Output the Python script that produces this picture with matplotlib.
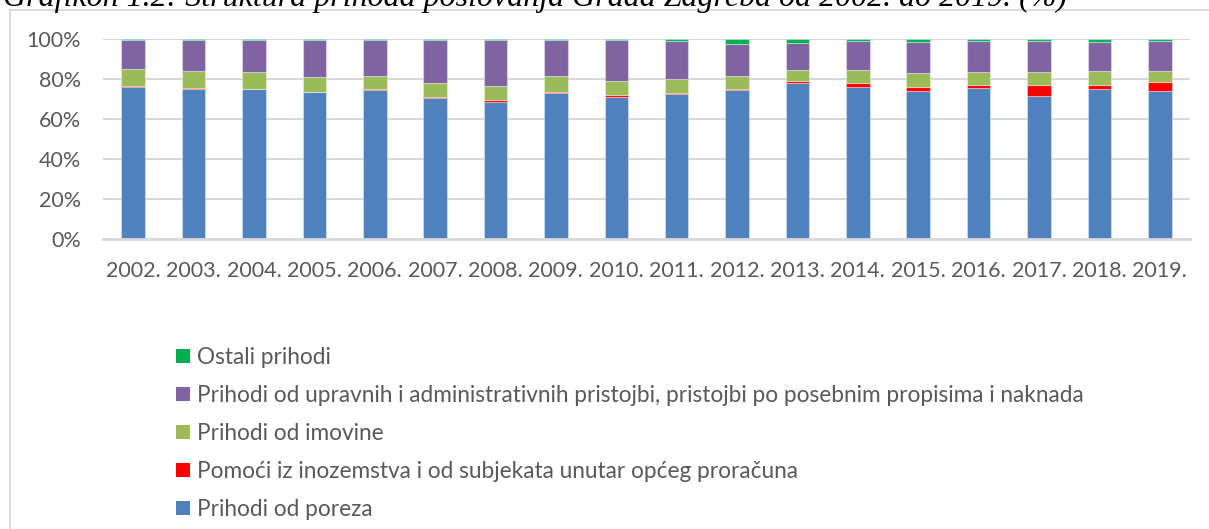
import matplotlib
matplotlib.use("Agg")
import matplotlib.pyplot as plt
from matplotlib.patches import Patch
from matplotlib.lines import Line2D
import numpy as np

years = ["2002.", "2003.", "2004.", "2005.", "2006.", "2007.", "2008.", "2009.", "2010.",
         "2011.", "2012.", "2013.", "2014.", "2015.", "2016.", "2017.", "2018.", "2019."]
porez = [75.8, 75.0, 74.8, 73.5, 74.5, 70.5, 68.7, 73.0, 71.2, 72.3, 74.3, 78.0, 76.0, 74.0, 75.7, 71.7, 74.8, 74.0]
pomoci = [0.7, 0.7, 0.2, 0.2, 0.3, 0.5, 0.6, 0.7, 0.8, 0.9, 0.7, 0.8, 1.8, 2.2, 1.5, 5.5, 2.4, 4.5]
imovina = [8.5, 8.3, 8.3, 7.3, 6.9, 6.8, 7.0, 7.6, 7.0, 6.8, 6.3, 5.7, 6.9, 6.8, 6.3, 6.5, 6.8, 5.7]
pristojbe = [14.7, 15.7, 16.4, 18.7, 18.0, 21.9, 23.4, 18.4, 20.7, 19.2, 16.0, 13.3, 14.1, 15.7, 15.5, 15.3, 14.7, 15.0]
ostali = [0.3, 0.3, 0.3, 0.3, 0.3, 0.3, 0.3, 0.3, 0.3, 0.8, 2.7, 2.2, 1.2, 1.3, 1.0, 1.0, 1.3, 0.8]

series = [
    ("Prihodi od poreza", porez, "#4F81BD"),
    ("Pomoći iz inozemstva i od subjekata unutar općeg proračuna", pomoci, "#FF0000"),
    ("Prihodi od imovine", imovina, "#9BBB59"),
    ("Prihodi od upravnih i administrativnih pristojbi, pristojbi po posebnim propisima i naknada", pristojbe, "#8064A2"),
    ("Ostali prihodi", ostali, "#00B050"),
]

W, H = 1209, 529
fig = plt.figure(figsize=(W / 100, H / 100), dpi=100)
plt.rcParams['font.family'] = ['Lato', 'DejaVu Sans']
txt_color = "#595959"
grid_color = "#D9D9D9"
fs_tick = 15.5
fs_leg = 16.3

ax = fig.add_axes([103 / W, 1 - 239 / H, (1190 - 103) / W, 200 / H])
x = np.arange(len(years))
bottom = np.zeros(len(years))
for name, vals, col in series:
    v = np.array(vals, dtype=float)
    ax.bar(x, v, width=0.39, bottom=bottom, color=col, edgecolor=(1, 1, 1, 0.35),
           linewidth=0.8, label=name, zorder=3)
    bottom += v

ax.set_xlim(-0.5, len(years) - 0.5)
ax.set_ylim(0, 100)
ax.set_yticks([0, 20, 40, 60, 80, 100])
ax.set_yticklabels(["0%", "20%", "40%", "60%", "80%", "100%"])
ax.set_xticks(x)
ax.set_xticklabels(years)
ax.tick_params(axis='both', length=0, labelsize=fs_tick, labelcolor=txt_color)
ax.tick_params(axis='y', pad=16)
ax.tick_params(axis='x', pad=16)
ax.yaxis.grid(True, color=grid_color, linewidth=1.5, zorder=0)
ax.set_axisbelow(True)
for s in ["left", "right", "top"]:
    ax.spines[s].set_visible(False)
ax.spines["bottom"].set_color(grid_color)
ax.spines["bottom"].set_linewidth(2)
ax.spines["bottom"].set_zorder(4)

# chart frame
fig.add_artist(Line2D([10 / W, 10 / W], [1 - 10 / H, 0], transform=fig.transFigure,
                      color=grid_color, linewidth=1.3))
fig.add_artist(Line2D([10 / W, 1], [1 - 10 / H, 1 - 10 / H], transform=fig.transFigure,
                      color=grid_color, linewidth=1.3))

# title, partly cropped at top as in the reference
fig.text(3 / W, 1 - 6 / H,
         "Grafikon 1.2: Struktura prihoda poslovanja Grada Zagreba od 2002. do 2019. (%)",
         family="Liberation Serif", style="italic", fontsize=23, color="black",
         ha="left", va="baseline")

handles = [Patch(facecolor=col, edgecolor='none', label=name) for name, _, col in series[::-1]]
leg = fig.legend(handles=handles, loc="upper left",
                 bbox_to_anchor=(176 / W, 1 - 347 / H), frameon=False,
                 fontsize=fs_leg, labelcolor=txt_color, handlelength=0.6, handleheight=0.6,
                 handletextpad=0.33, labelspacing=0.75, borderaxespad=0, borderpad=0)

fig.savefig("out.png", dpi=100)
